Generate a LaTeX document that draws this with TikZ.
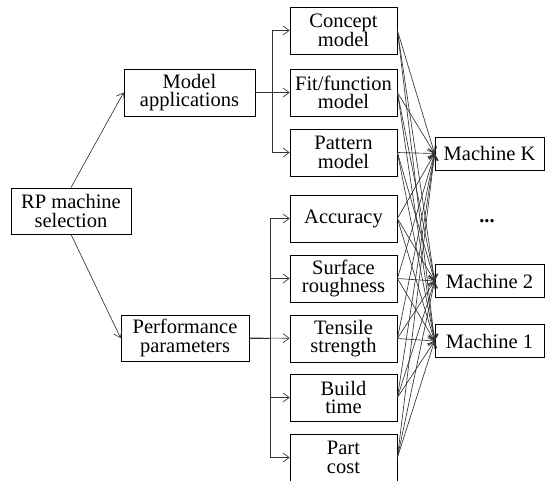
\documentclass[tikz,border=0pt]{standalone}
\usepackage{fontspec}
\setmainfont{Liberation Serif}
\newfontfamily\boxfont{Liberation Serif}
\usetikzlibrary{arrows.meta,positioning}
\definecolor{wire}{HTML}{333333}

\begin{document}
\begin{tikzpicture}[x=1pt,y=1pt,
  every node/.style={align=center,font=\boxfont\fontsize{20.5}{18.5}\selectfont,inner sep=0pt},
  box/.style={draw,fill=white,line width=0.8pt,minimum width=107pt,minimum height=47pt},
  mbox/.style={draw,fill=white,line width=0.8pt,minimum width=109pt,minimum height=33pt},
  arrow/.style={-{Straight Barb[length=6pt,width=9pt]},line width=0.65pt,color=wire}]
  \clip (0,0) rectangle (545,480);
  % root and the two groups
  \node[box,minimum width=120pt,minimum height=46pt] (rp) at (71,269) {RP machine\\selection};
  \node[box,minimum width=131pt] (model) at (189.5,387.5) {Model\\applications};
  \node[box,minimum width=128pt,minimum height=46pt] (perf) at (185,142) {Performance\\parameters};
  % criteria column
  \node[box] (concept) at (343.5,449.5) {Concept\\model};
  \node[box] (fit) at (343.5,387.5) {Fit/function\\model};
  \node[box] (pattern) at (343.5,327.5) {Pattern\\model};
  \node[box] (accuracy) at (343.5,261.5) {Accuracy};
  \node[box] (surface) at (343.5,201.5) {Surface\\roughness};
  \node[box] (tensile) at (343.5,141.5) {Tensile\\strength};
  \node[box] (build) at (343.5,82.5) {Build\\time};
  \node[box] (cost) at (343.5,22.5) {Part\\cost};
  % machines
  \node[mbox] (mk) at (489.5,326.5) {Machine K};
  \node (dots) at (487,259) {\textbf{...}};
  \node[mbox] (m2) at (489.5,199) {Machine 2};
  \node[mbox] (m1) at (489.5,139) {Machine 1};
  \draw[arrow] (rp.north) -- (model.west); \draw[arrow] (rp.south) -- (perf.west);
  \draw[arrow] (model.east) -- ++(17,0) |- (concept); \draw[arrow] (model.east) -- (fit);
  \draw[arrow] (model.east) -- ++(17,0) |- (pattern);
  \draw[arrow] (perf.east) -- ++(21,0) |- (accuracy); \draw[arrow] (perf.east) -- ++(21,0) |- (surface);
  \draw[arrow] (perf.east) -- (tensile); \draw[arrow] (perf.east) -- ++(21,0) |- (build);
  \draw[arrow] (perf.east) -- ++(21,0) |- (cost);
  \draw[arrow] (concept.east)--(mk.west); \draw[arrow] (concept.east)--(m2.west); \draw[arrow] (concept.east)--(m1.west);
  \draw[arrow] (fit.east)--(mk.west); \draw[arrow] (fit.east)--(m2.west); \draw[arrow] (fit.east)--(m1.west);
  \draw[arrow] (pattern.east)--(mk.west); \draw[arrow] (pattern.east)--(m2.west); \draw[arrow] (pattern.east)--(m1.west);
  \draw[arrow] (accuracy.east)--(mk.west); \draw[arrow] (accuracy.east)--(m2.west); \draw[arrow] (accuracy.east)--(m1.west);
  \draw[arrow] (surface.east)--(mk.west); \draw[arrow] (surface.east)--(m2.west); \draw[arrow] (surface.east)--(m1.west);
  \draw[arrow] (tensile.east)--(mk.west); \draw[arrow] (tensile.east)--(m2.west); \draw[arrow] (tensile.east)--(m1.west);
  \draw[arrow] (build.east)--(mk.west); \draw[arrow] (build.east)--(m2.west); \draw[arrow] (build.east)--(m1.west);
  \draw[arrow] (cost.east)--(mk.west); \draw[arrow] (cost.east)--(m2.west); \draw[arrow] (cost.east)--(m1.west);
\end{tikzpicture}
\end{document}
